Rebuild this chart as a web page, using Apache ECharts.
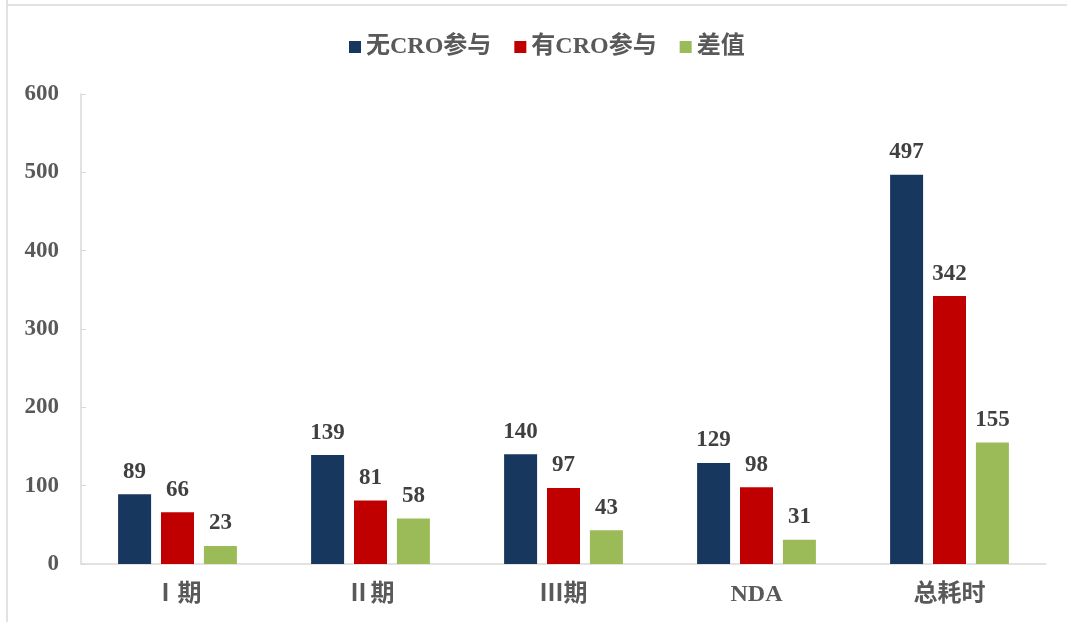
<!DOCTYPE html>
<html><head><meta charset="utf-8">
<script src="https://cdn.jsdelivr.net/npm/echarts@6/dist/echarts.min.js"></script>
<style>html,body{margin:0;padding:0;background:#fff}#c{width:1067px;height:622px}</style>
</head><body><div id="c"></div>
<script>
const categories = ['Ⅰ期', 'Ⅱ期', 'Ⅲ期', 'NDA', '总耗时'];
const seriesNames = ['无CRO参与', '有CRO参与', '差值'];
const noCRO = [89, 139, 140, 129, 497];
const withCRO = [66, 81, 97, 98, 342];
const diff = [23, 58, 43, 31, 155];
const yTicks = [0, 100, 200, 300, 400, 500, 600];
const colors = ['#17375E', '#C00000', '#9BBB59'];

const font = '"Liberation Serif","Times New Roman","Noto Sans CJK SC",serif';
const chart = echarts.init(document.getElementById('c'));
const values = [noCRO, withCRO, diff];
chart.setOption({
  animation: false,
  color: colors,
  legend: {
    top: 30, left: 344, itemWidth: 12, itemHeight: 12, itemGap: 23,
    icon: 'rect',
    textStyle: { fontFamily: font, fontSize: 24, fontWeight: 'bold', color: '#595959' },
    data: seriesNames
  },
  grid: { left: 81, right: 21, top: 94, bottom: 58 },
  xAxis: {
    type: 'category', data: categories,
    axisLine: { lineStyle: { color: '#D9D9D9', width: 1.5 } },
    axisTick: { show: false },
    axisLabel: { margin: 19, fontFamily: font, fontSize: 24, fontWeight: 'bold', color: '#595959' }
  },
  yAxis: {
    type: 'value', min: yTicks[0], max: yTicks[yTicks.length - 1], interval: 100,
    axisLine: { show: true, lineStyle: { color: '#D9D9D9', width: 1.5 } },
    axisTick: { show: true, inside: true, length: 5, lineStyle: { color: '#D9D9D9' } },
    splitLine: { show: false },
    axisLabel: { margin: 22, fontFamily: font, fontSize: 23, fontWeight: 'bold', color: '#595959' }
  },
  series: seriesNames.map((n, i) => ({
    name: n, type: 'bar', data: values[i],
    barWidth: 33, barGap: '30%',
    label: { show: true, position: 'top', distance: 11, fontFamily: font, fontSize: 23, fontWeight: 'bold', color: '#404040' }
  })),
  graphic: [
    { type: 'line', shape: { x1: 7, y1: 0, x2: 7, y2: 622 }, style: { stroke: '#D9D9D9', lineWidth: 1.5 } },
    { type: 'line', shape: { x1: 7, y1: 5, x2: 1067, y2: 5 }, style: { stroke: '#D9D9D9', lineWidth: 1.5 } }
  ]
});
</script></body></html>
